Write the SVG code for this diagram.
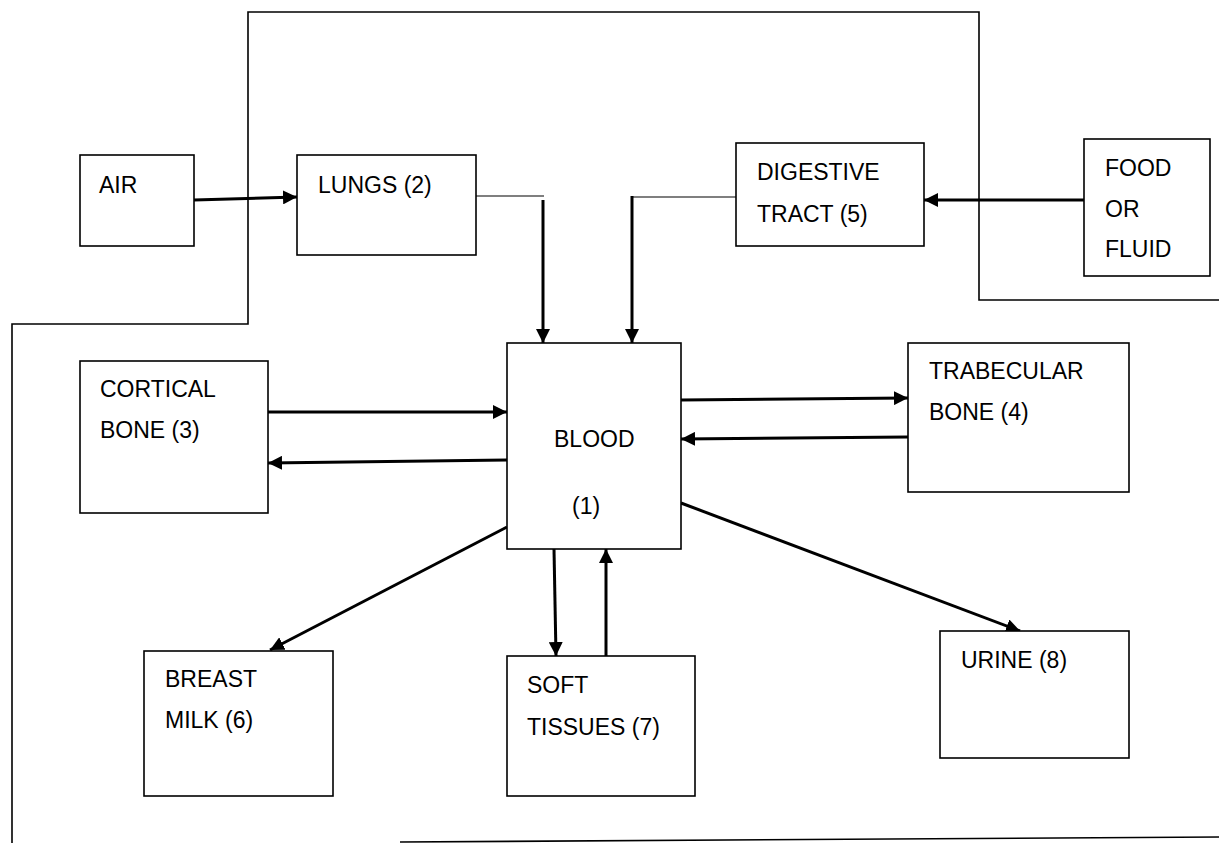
<svg xmlns="http://www.w3.org/2000/svg" width="1219" height="843" viewBox="0 0 1219 843">
<style>
.box{fill:#fff;stroke:#000;stroke-width:1.6}
.t{font-family:"Liberation Sans",Arial,sans-serif;font-size:23px;fill:#000}
.arr{stroke:#000;stroke-width:3;fill:none;marker-end:url(#ah)}
.thin{stroke:#000;stroke-width:1.2;fill:none}
.loop{stroke:#000;stroke-width:1.6;fill:none}
</style>
<defs>
<marker id="ah" markerUnits="userSpaceOnUse" markerWidth="14" markerHeight="14" refX="14" refY="7" orient="auto">
<path d="M0,0 L14,7 L0,14 z" fill="#000"/>
</marker>
</defs>
<rect width="1219" height="843" fill="#fff"/>
<g id="connectors">
<polyline class="loop" points="12,843 12,324 248,324 248,12 979,12 979,300 1219,300"/>
<line class="loop" x1="400" y1="842" x2="1219" y2="837"/>
<line class="arr" x1="194" y1="200" x2="297" y2="197"/>
<line class="thin" x1="476" y1="196" x2="544" y2="196"/>
<line class="arr" x1="543" y1="200" x2="543" y2="343"/>
<line class="thin" x1="736" y1="197" x2="632" y2="197"/>
<line class="arr" x1="632" y1="196" x2="632" y2="343"/>
<line class="arr" x1="1084" y1="200" x2="924" y2="200"/>
<line class="arr" x1="268" y1="412" x2="507" y2="412"/>
<line class="arr" x1="507" y1="460" x2="268" y2="463"/>
<line class="arr" x1="681" y1="400" x2="908" y2="398"/>
<line class="arr" x1="908" y1="437" x2="681" y2="439"/>
<line class="arr" x1="507" y1="527" x2="270" y2="650"/>
<line class="arr" x1="554" y1="549" x2="556" y2="656"/>
<line class="arr" x1="606" y1="656" x2="606" y2="549"/>
<line class="arr" x1="681" y1="503" x2="1020" y2="631"/>
</g>
<g id="air"><rect class="box" x="80" y="155" width="114" height="91"/><text class="t" x="99" y="193">AIR</text></g>
<g id="lungs"><rect class="box" x="297" y="155" width="179" height="100"/><text class="t" x="318" y="193">LUNGS (2)</text></g>
<g id="digestive"><rect class="box" x="736" y="143" width="188" height="103"/><text class="t" x="757" y="180">DIGESTIVE</text><text class="t" x="757" y="222">TRACT (5)</text></g>
<g id="food"><rect class="box" x="1084" y="139" width="126" height="137"/><text class="t" x="1105" y="176">FOOD</text><text class="t" x="1105" y="217">OR</text><text class="t" x="1105" y="257">FLUID</text></g>
<g id="cortical"><rect class="box" x="80" y="361" width="188" height="152"/><text class="t" x="100" y="397">CORTICAL</text><text class="t" x="100" y="438">BONE (3)</text></g>
<g id="blood"><rect class="box" x="507" y="343" width="174" height="206"/><text class="t" x="554" y="447">BLOOD</text><text class="t" x="572" y="514">(1)</text></g>
<g id="trabecular"><rect class="box" x="908" y="343" width="221" height="149"/><text class="t" x="929" y="379">TRABECULAR</text><text class="t" x="929" y="420">BONE (4)</text></g>
<g id="breast"><rect class="box" x="144" y="651" width="189" height="145"/><text class="t" x="165" y="687">BREAST</text><text class="t" x="165" y="728">MILK (6)</text></g>
<g id="soft"><rect class="box" x="507" y="656" width="188" height="140"/><text class="t" x="527" y="693">SOFT</text><text class="t" x="527" y="735">TISSUES (7)</text></g>
<g id="urine"><rect class="box" x="940" y="631" width="189" height="127"/><text class="t" x="961" y="668">URINE (8)</text></g>
</svg>
